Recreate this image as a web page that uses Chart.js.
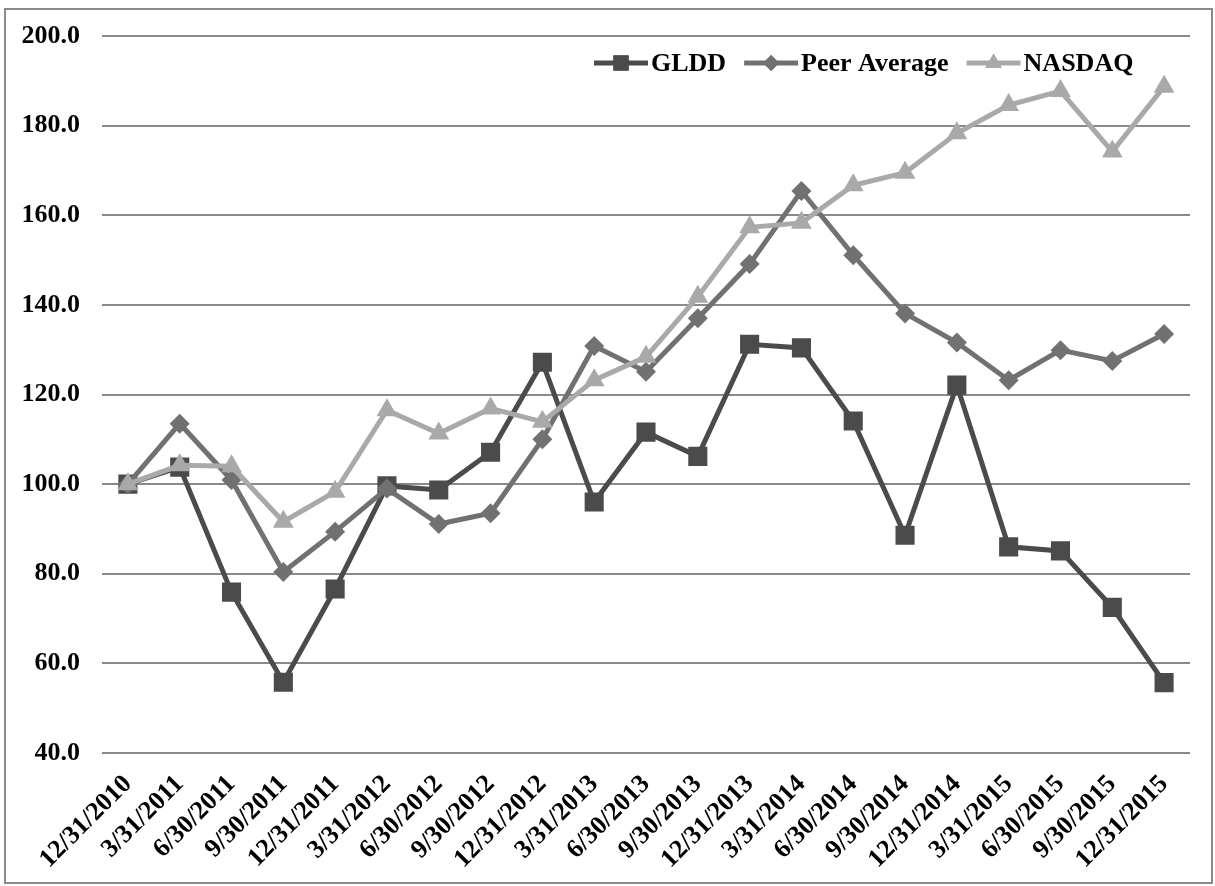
<!DOCTYPE html>
<html lang="en">

<head>
  <meta charset="UTF-8" />
  <title>GLDD vs Peer Average vs NASDAQ</title>
  <script src="https://cdn.jsdelivr.net/npm/chart.js"></script>
  <style>
    html, body {
      margin: 0;
      padding: 0;
      background: #ffffff;
    }

    #frame {
      position: absolute;
      left: 4px;
      top: 8px;
      width: 1209px;
      height: 876px;
      border: 2px solid #8a8a8a;
      box-sizing: border-box;
    }
  </style>
</head>

<body>
  <div id="frame">
    <canvas id="perfChart"></canvas>
  </div>

  <script>
    const dates = [
      "12/31/2010", "3/31/2011", "6/30/2011", "9/30/2011", "12/31/2011",
      "3/31/2012", "6/30/2012", "9/30/2012", "12/31/2012", "3/31/2013",
      "6/30/2013", "9/30/2013", "12/31/2013", "3/31/2014", "6/30/2014",
      "9/30/2014", "12/31/2014", "3/31/2015", "6/30/2015", "9/30/2015",
      "12/31/2015"
    ];
    const gldd = [100.0, 103.8, 75.9, 55.8, 76.6, 99.6, 98.7, 107.1, 127.2, 96.0,
      111.6, 106.2, 131.2, 130.4, 114.1, 88.6, 122.1, 86.0, 85.1, 72.5, 55.7];
    const peerAverage = [100.0, 113.5, 100.9, 80.4, 89.4, 99.0, 91.1, 93.5, 110.0, 130.8,
      125.1, 137.0, 149.1, 165.4, 151.1, 138.1, 131.6, 123.2, 129.9, 127.5, 133.5];
    const nasdaq = [100.0, 104.2, 104.0, 91.6, 98.3, 116.5, 111.3, 116.9, 113.9, 123.2,
      128.4, 141.8, 157.3, 158.3, 166.7, 169.5, 178.3, 184.6, 187.7, 174.2, 188.7];

    const FONT = "'Liberation Serif', 'Times New Roman', serif";

    const seriesStyle = [
      { label: "GLDD", data: gldd, color: "#4b4b4b", pointStyle: "rect", radius: 13.5, order: 2 },
      { label: "Peer Average", data: peerAverage, color: "#717171", pointStyle: "rectRot", radius: 10, order: 1 },
      { label: "NASDAQ", data: nasdaq, color: "#a9a9a9", pointStyle: "triangle", radius: 12, order: 0 }
    ];

    // legend drawn by hand: Excel-style line sample with the marker in the middle
    const lineLegend = {
      id: "lineLegend",
      afterDraw(chart) {
        const ctx = chart.ctx;
        const area = chart.chartArea;
        let x = area.left + 492;
        const y = area.top + 27;
        ctx.save();
        ctx.font = "bold 26px " + FONT;
        ctx.textBaseline = "middle";
        ctx.textAlign = "left";
        seriesStyle.forEach(s => {
          ctx.strokeStyle = s.color;
          ctx.lineWidth = 5;
          ctx.beginPath();
          ctx.moveTo(x, y);
          ctx.lineTo(x + 54, y);
          ctx.stroke();
          ctx.fillStyle = s.color;
          Chart.helpers.drawPoint(ctx, {
            pointStyle: s.pointStyle,
            radius: s.radius * 0.8,
            borderWidth: 0
          }, x + 27, y);
          ctx.fill();
          ctx.fillStyle = "#000000";
          ctx.fillText(s.label, x + 57, y + 1);
          x += 57 + ctx.measureText(s.label).width + 18;
        });
        ctx.restore();
      }
    };

    const ctx = document.getElementById("perfChart").getContext("2d");

    new Chart(ctx, {
      type: "line",
      data: {
        labels: dates,
        datasets: seriesStyle.map(s => ({
          label: s.label,
          data: s.data,
          borderColor: s.color,
          backgroundColor: s.color,
          borderWidth: 5,
          tension: 0,
          pointStyle: s.pointStyle,
          pointRadius: s.radius,
          pointHoverRadius: s.radius,
          pointBorderWidth: 0,
          pointBackgroundColor: s.color,
          order: s.order
        }))
      },
      options: {
        responsive: true,
        maintainAspectRatio: false,
        animation: false,
        layout: {
          padding: { left: 0, right: 21, top: 26, bottom: 0 }
        },
        plugins: {
          legend: { display: false },
          tooltip: { enabled: false }
        },
        scales: {
          x: {
            offset: true,
            grid: { display: false },
            border: { display: false },
            ticks: {
              color: "#000000",
              font: { family: FONT, size: 26, weight: "bold" },
              maxRotation: 45,
              minRotation: 45,
              autoSkip: false,
              padding: 8
            },
            afterFit(scale) {
              scale.paddingLeft = 0;
              scale.paddingRight = 0;
              scale.height = 129;
            }
          },
          y: {
            min: 40,
            max: 200,
            border: { display: false },
            grid: {
              color: "#8a8a8a",
              lineWidth: 2,
              drawTicks: false
            },
            ticks: {
              stepSize: 20,
              color: "#000000",
              font: { family: FONT, size: 26, weight: "bold" },
              padding: 22,
              callback: v => v.toFixed(1)
            },
            afterFit(scale) {
              scale.width = 96;
              scale.paddingTop = 0;
              scale.paddingBottom = 0;
            }
          }
        }
      },
      plugins: [lineLegend]
    });
  </script>
</body>

</html>
